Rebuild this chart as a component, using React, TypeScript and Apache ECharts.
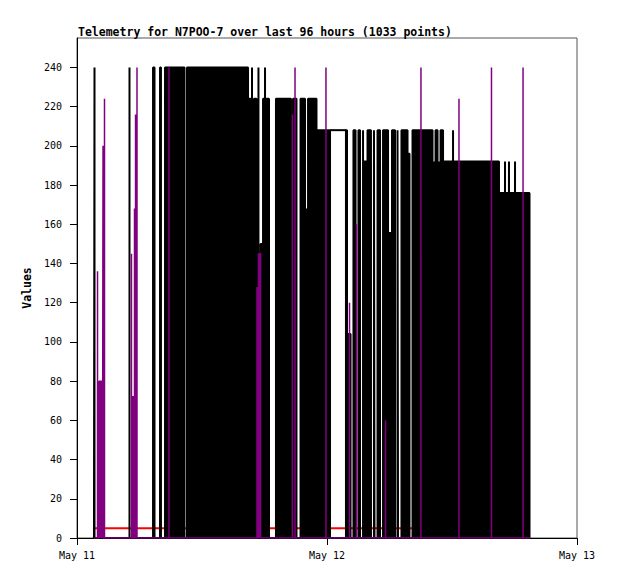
import { useEffect, useRef } from 'react';
import * as echarts from 'echarts';

const TITLE = 'Telemetry for N7POO-7 over last 96 hours (1033 points)';
const Y_NAME = 'Values';
const DAY_LABELS = ['May 11', 'May 12', 'May 13'];
const DAY_HOURS = [0, 24, 48];
const Y_TICKS = [0, 20, 40, 60, 80, 100, 120, 140, 160, 180, 200, 220, 240];

// hours since May 11 00:00 of the first and last sample
const FIRST_HOUR = 1.63;
const LAST_HOUR = 43.49;

// black trace: dense runs (start hour, end hour, ceiling)
const blackStart = [1.68, 5.04, 7.30, 7.97, 8.45, 10.56, 16.51, 16.80, 16.99, 17.42, 17.62, 17.86, 18.05, 18.19, 19.10, 20.74, 21.46, 22.03, 22.18, 23.04, 25.82, 26.06, 26.54, 27.02, 27.46, 27.50, 27.89, 28.51, 28.85, 29.38, 30.05, 30.24, 30.77, 31.15, 31.82, 32.21, 34.27, 34.42, 34.75, 34.90, 35.14, 36.10, 36.19, 40.51, 41.09, 41.14, 41.47, 41.52, 42.05, 42.10];
const blackEnd = [1.68, 5.04, 7.44, 8.06, 10.32, 16.42, 16.66, 16.80, 17.23, 17.42, 17.76, 17.95, 18.05, 18.43, 20.54, 21.07, 21.89, 22.03, 22.99, 24.29, 25.92, 26.26, 26.74, 27.17, 27.46, 27.79, 28.22, 28.56, 29.09, 29.86, 30.05, 30.53, 30.82, 31.73, 31.92, 34.13, 34.27, 34.61, 34.75, 35.14, 36.00, 36.10, 40.51, 41.04, 41.09, 41.42, 41.47, 42.00, 42.05, 43.44];
const blackTop = [240, 240, 240, 240, 240, 240, 224, 240, 224, 240, 150, 224, 240, 224, 224, 224, 224, 168, 224, 208, 208, 104, 208, 208, 208, 192, 208, 208, 208, 208, 156, 208, 208, 208, 196, 208, 192, 208, 192, 208, 192, 208, 192, 176, 192, 176, 192, 176, 192, 176];

// black plateau that stays high (no dense oscillation under it)
const plateauHours = [24.29, 25.82];
const plateauValue = 208;

// purple trace spikes
const purpleStart = [1.97, 2.11, 2.50, 2.64, 5.23, 5.33, 5.52, 5.62, 5.76, 8.83, 17.28, 17.42, 20.69, 20.93, 23.90, 26.16, 26.83, 29.62, 33.02, 36.67, 39.79, 42.82];
const purpleEnd = [1.97, 2.45, 2.50, 2.64, 5.23, 5.42, 5.52, 5.62, 5.76, 8.83, 17.28, 17.62, 20.69, 20.93, 23.90, 26.16, 26.83, 29.62, 33.02, 36.67, 39.79, 42.82];
const purpleTop = [136, 80, 200, 224, 145, 72, 168, 216, 240, 240, 128, 145, 216, 240, 240, 120, 160, 60, 240, 224, 240, 240];

// red trace (constant)
const redHours = [FIRST_HOUR, LAST_HOUR];
const redValues = [5, 5];

function runsToLine(starts: number[], ends: number[], tops: number[]) {
  const pts: number[][] = [[FIRST_HOUR, 0]];
  for (let i = 0; i < starts.length; i++) {
    pts.push([starts[i], 0], [starts[i], tops[i]], [ends[i], tops[i]], [ends[i], 0]);
  }
  pts.push([LAST_HOUR, 0]);
  return pts;
}

const MONO = '"DejaVu Sans Mono", "Liberation Mono", monospace';

export default function App() {
  const ref = useRef<HTMLDivElement>(null);
  useEffect(() => {
    if (!ref.current) return;
    const chart = echarts.init(ref.current, undefined, { renderer: 'svg' });
    const base = { type: 'line', symbol: 'none', showSymbol: false, silent: true };
    chart.setOption({
      animation: false,
      backgroundColor: '#ffffff',
      title: {
        text: TITLE,
        left: 78,
        top: 26,
        padding: 0,
        textStyle: { fontFamily: MONO, fontSize: 11.5, fontWeight: 'bold', color: '#000' },
      },
      grid: { left: 77, top: 38, width: 500, height: 500, show: true, borderColor: '#555', borderWidth: 1, backgroundColor: 'transparent' },
      xAxis: {
        type: 'value',
        min: 0,
        max: 48,
        axisLine: { show: true, onZero: false, lineStyle: { color: '#000', width: 1 } },
        axisTick: { show: true, inside: false, length: 7, customValues: DAY_HOURS, lineStyle: { color: '#000' } },
        axisLabel: {
          customValues: DAY_HOURS,
          margin: 12,
          fontFamily: MONO,
          fontSize: 10,
          color: '#000',
          formatter: (v: number) => DAY_LABELS[DAY_HOURS.indexOf(v)] ?? '',
        },
        splitLine: { show: false },
      },
      yAxis: {
        type: 'value',
        min: 0,
        max: 255,
        name: Y_NAME,
        nameLocation: 'middle',
        nameGap: 40,
        nameTextStyle: { fontFamily: MONO, fontSize: 11.5, fontWeight: 'bold', color: '#000' },
        axisLine: { show: true, onZero: false, lineStyle: { color: '#000', width: 1 } },
        axisTick: { show: true, inside: false, length: 7, customValues: Y_TICKS, lineStyle: { color: '#000' } },
        axisLabel: { customValues: Y_TICKS, margin: 15, fontFamily: MONO, fontSize: 10, color: '#000' },
        splitLine: { show: false },
      },
      series: [
        {
          ...base,
          name: 'red',
          z: 1,
          data: redHours.map((h, i) => [h, redValues[i]]),
          lineStyle: { color: '#ff0000', width: 2 },
          itemStyle: { color: '#ff0000' },
        },
        {
          ...base,
          name: 'black',
          z: 2,
          data: runsToLine(blackStart, blackEnd, blackTop),
          lineStyle: { color: '#000000', width: 2 },
          itemStyle: { color: '#000000' },
          areaStyle: { color: '#000000', opacity: 1 },
        },
        {
          ...base,
          name: 'blackPlateau',
          z: 2,
          data: plateauHours.map((h) => [h, plateauValue]),
          lineStyle: { color: '#000000', width: 2 },
          itemStyle: { color: '#000000' },
        },
        {
          ...base,
          name: 'purple',
          z: 3,
          data: runsToLine(purpleStart, purpleEnd, purpleTop),
          lineStyle: { color: '#800080', width: 1.5 },
          itemStyle: { color: '#800080' },
          areaStyle: { color: '#800080', opacity: 1 },
        },
      ],
    });
    return () => chart.dispose();
  }, []);
  return <div ref={ref} style={{ position: 'fixed', left: 0, top: 0, width: 618, height: 579, background: '#fff' }} />;
}
